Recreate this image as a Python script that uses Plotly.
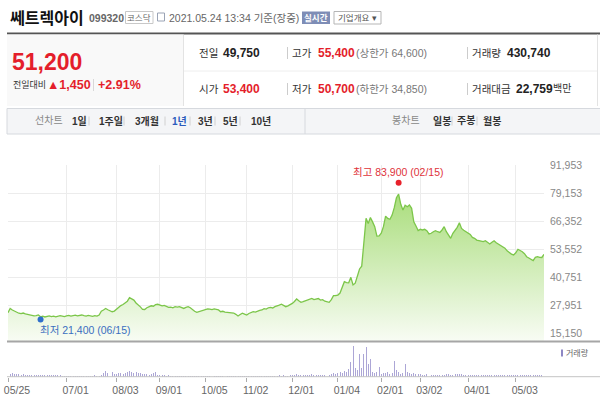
import plotly.graph_objects as go
import pandas as pd

# ---------------- data ----------------
holidays = ['2020-08-17', '2020-09-30', '2020-10-01', '2020-10-02', '2020-10-09',
            '2020-12-25', '2020-12-31', '2021-01-01', '2021-02-11', '2021-02-12',
            '2021-03-01', '2021-05-05', '2021-05-19']
trading_days = [d.strftime('%Y-%m-%d') for d in pd.bdate_range('2020-05-25', '2021-05-24')
                if d.strftime('%Y-%m-%d') not in holidays]

close_2020_05 = [24500, 26500, 25800, 25200, 24600]
close_2020_06 = [24300, 24100, 24400, 24000, 23700, 23500, 23300, 23100, 23200, 23500, 22700,
                 23000, 22600, 22900, 23100, 22800, 23000, 22700, 22900, 23200, 23000, 22800]
close_2020_07 = [23100, 23300, 23000, 23200, 23400, 23100, 23300, 23500, 23200, 23000, 23300,
                 23100, 22900, 23200, 23000, 23500, 25200, 25800, 26500, 25900, 25500, 25000, 25300]
close_2020_08 = [26200, 27300, 27800, 28300, 28900, 29800, 31400, 30900, 30300, 29000, 28300,
                 27200, 26100, 26000, 26800, 27300, 27700, 27500, 28200, 28400]
close_2020_09 = [28100, 27700, 27900, 27400, 27000, 27100, 26800, 27300, 27100, 27300, 26700,
                 26500, 27000, 27300, 26800, 25900, 25200, 24700, 25000, 25500, 25800]
close_2020_10 = [26100, 26300, 26200, 26000, 26300, 26200, 25800, 25000, 25200, 24800, 24700,
                 24900, 24700, 24400, 23800, 23050, 23700, 24300, 23900]
close_2020_11 = [23500, 24200, 24600, 25000, 24800, 25300, 25600, 25800, 26400, 26200, 26800,
                 27000, 26700, 27300, 27500, 28000, 28400, 27900, 27300, 27700, 28200]
close_2020_12 = [28800, 29700, 30800, 30000, 29300, 29600, 29900, 30300, 30800, 31100, 30500,
                 30800, 31000, 30300, 30500, 29800, 29500, 29300, 30500, 32300, 32400]
close_2021_01 = [32600, 33500, 36400, 38700, 38300, 38200, 40700, 37200, 38000, 41000, 44500,
                 45800, 56200, 67600, 65300, 68000, 66000, 63800, 59500, 59600]
close_2021_02 = [60800, 63800, 68600, 67600, 67200, 69100, 72500, 77000, 78700, 74000, 71400,
                 73600, 72900, 73700, 72200, 66000, 64100, 62000]
close_2021_03 = [62600, 62300, 62600, 62000, 60500, 60800, 61500, 62000, 61500, 61200, 62300,
                 63800, 61500, 60000, 58500, 60800, 62000, 63500, 65600, 63000, 62200, 61500]
close_2021_04 = [61000, 60300, 58900, 58500, 57700, 57500, 57000, 57000, 57400, 56500, 55900,
                 56700, 57400, 56500, 55900, 55000, 54400, 54000, 52800, 52000, 51300, 50900]
close_2021_05 = [51900, 53500, 53000, 52400, 51500, 50100, 49500, 48900, 48300, 49800, 50100,
                 49800, 49750, 51200]

vol_2020_05 = [600, 450, 500, 400, 350]
vol_2020_06 = [380, 300, 350, 280, 300, 260, 250, 280, 240, 230, 300, 260, 220, 240, 210, 200,
               220, 190, 180, 200, 170, 160]
vol_2020_07 = [120, 60, 150, 50, 90, 140, 40, 60, 130, 100, 50, 160, 110, 200, 150, 170, 250,
               600, 750, 500, 1900, 700, 450]
vol_2020_08 = [350, 600, 500, 450, 550, 650, 850, 700, 500, 650, 550, 500, 450, 350, 400, 300,
               350, 600, 700, 250]
vol_2020_09 = [250, 200, 180, 150, 200, 170, 140, 160, 130, 150, 120, 140, 110, 90, 130, 100,
               80, 120, 90, 70, 60]
vol_2020_10 = [60, 150, 40, 50, 30, 60, 40, 160, 50, 40, 30, 60, 40, 50, 150, 40, 50, 30, 60]
vol_2020_11 = [60, 70, 160, 60, 80, 50, 120, 150, 100, 170, 130, 90, 160, 140, 110, 180, 150,
               200, 130, 170, 190]
vol_2020_12 = [180, 220, 350, 250, 200, 230, 300, 260, 280, 320, 200, 240, 260, 230, 210, 280,
               250, 220, 400, 600, 450]
vol_2021_01 = [500, 700, 600, 800, 700, 1050, 2150, 4400, 1300, 900, 3250, 1200, 3250, 4300,
               1800, 2600, 700, 500, 700, 1340]
vol_2021_02 = [400, 500, 600, 700, 450, 500, 2250, 950, 700, 450, 500, 1800, 700, 500, 450, 550,
               400, 350]
vol_2021_03 = [350, 300, 280, 320, 250, 300, 270, 240, 260, 300, 280, 250, 350, 400, 300, 280,
               330, 360, 420, 380, 300, 260]
vol_2021_04 = [300, 280, 260, 240, 270, 250, 230, 220, 250, 230, 210, 240, 260, 220, 200, 230,
               210, 190, 220, 250, 200, 230]
vol_2021_05 = [260, 300, 250, 220, 240, 280, 300, 260, 230, 250, 220, 240, 280, 431]

close = (close_2020_05 + close_2020_06 + close_2020_07 + close_2020_08 + close_2020_09 +
         close_2020_10 + close_2020_11 + close_2020_12 + close_2021_01 + close_2021_02 +
         close_2021_03 + close_2021_04 + close_2021_05)
volume_k = (vol_2020_05 + vol_2020_06 + vol_2020_07 + vol_2020_08 + vol_2020_09 + vol_2020_10 +
            vol_2020_11 + vol_2020_12 + vol_2021_01 + vol_2021_02 + vol_2021_03 + vol_2021_04 +
            vol_2021_05)
volume = [v * 1000 for v in volume_k]
assert len(close) == len(trading_days) == len(volume)

tick_dates = ['2020-05-25', '2020-07-01', '2020-08-03', '2020-09-01', '2020-10-05', '2020-11-02',
              '2020-12-01', '2021-01-04', '2021-02-01', '2021-03-02', '2021-04-01', '2021-05-03']
tick_labels = ['05/25', '07/01', '08/03', '09/01', '10/05', '11/02', '12/01', '01/04', '02/01',
               '03/02', '04/01', '05/03']
price_ticks = [15150, 27951, 40751, 53552, 66352, 79153, 91953]
high_value, high_date, high_label = 83900, '2021-02-15', '02/15'
low_value, low_date, low_label = 21400, '2020-06-15', '06/15'

# ---------------- geometry helpers ----------------
W, H, L, R = 600, 399, 8, 56
PW = W - L - R
def X(p): return (p - L) / PW
def Y(p): return 1 - p / H

FONT = "Liberation Sans, Noto Sans CJK KR, sans-serif"
KFONT = "Noto Sans CJK KR, sans-serif"
RED = '#e41e2b'

# price axis: 91,953 at y=165px, 15,150 at y=333.3px, area bottom at 341px
per_px = (price_ticks[-1] - price_ticks[0]) / (333.3 - 165)
ymin = price_ticks[0] - (341 - 333.3) * per_px
vmax = max(volume) * (376.7 - 342) / (376.7 - 346)

fig = go.Figure()
fig.add_trace(go.Scatter(
    x=trading_days, y=close, mode='lines', line=dict(color='#7cc64a', width=1.3),
    fill='tozeroy',
    fillgradient=dict(type='vertical', start=ymin, stop=79000,
                      colorscale=[[0, '#f8fcf4'], [1, '#a9dd7b']]),
    hoverinfo='skip'))
fig.add_trace(go.Scatter(x=[high_date], y=[high_value], mode='markers',
                         marker=dict(color='#e8212b', size=6), hoverinfo='skip'))
fig.add_trace(go.Scatter(x=[low_date], y=[low_value], mode='markers',
                         marker=dict(color='#2f6fcb', size=6), hoverinfo='skip'))
fig.add_trace(go.Bar(x=trading_days, y=volume, xaxis='x2', yaxis='y2', width=0.45,
                     marker=dict(color='#aca6d6', line=dict(width=0)), hoverinfo='skip'))

ann = []
def txt(x, y, s, size=11, color='#333', bold=False, anchor='left', family=FONT):
    ann.append(dict(xref='paper', yref='paper', x=X(x), y=Y(y),
                    text=('<b>%s</b>' % s) if bold else s, showarrow=False,
                    xanchor=anchor, yanchor='middle', borderpad=0,
                    font=dict(size=size, color=color, family=family)))

shapes = []
def rect(x0, y0, x1, y1, fill=None, line=None, lw=1):
    shapes.append(dict(type='rect', xref='paper', yref='paper', x0=X(x0), x1=X(x1),
                       y0=Y(y1), y1=Y(y0), fillcolor=fill or 'rgba(0,0,0,0)',
                       line=dict(color=line or 'rgba(0,0,0,0)', width=lw if line else 0)))
def seg(x0, y0, x1, y1, color, lw=1):
    shapes.append(dict(type='line', xref='paper', yref='paper', x0=X(x0), x1=X(x1),
                       y0=Y(y0), y1=Y(y1), line=dict(color=color, width=lw)))

# header
txt(9, 17, '쎄트렉아이', 16, '#111', True, family=KFONT)
txt(88, 18, '099320', 10.5, '#666', True)
rect(125.5, 11.5, 153, 23.5, 'white', '#c8c8c8')
txt(139.3, 17.5, '코스닥', 8.5, '#666', anchor='center')
rect(157.5, 13, 164.5, 21, 'white', '#9aa3b5')
txt(167.5, 18, '2021.05.24 13:34 기준(장중)', 10.5, '#666')
rect(302, 11.5, 330, 24, '#7e8db6', None)
txt(316, 18, '실시간', 8.5, 'white', True, anchor='center')
rect(334, 11.5, 381, 24, 'white', '#b5b5b5')
txt(357.5, 18, '기업개요 ▾', 8.5, '#555', anchor='center')
seg(7, 33.5, 600, 33.5, '#555', 2)

# info box
rect(7, 34.5, 183, 106, '#f9f9f9', None)
seg(183.5, 34.5, 183.5, 106, '#e3e3e3')
seg(597.5, 34.5, 597.5, 106, '#e3e3e3')
seg(184, 71, 597, 71, '#eeeeee')
txt(11, 62, '51,200', 23, RED, True)
txt(12, 85, '전일대비', 9, '#333')
txt(46, 85, '▲1,450', 12.5, RED, True)
seg(93.5, 79, 93.5, 91, '#d8d8d8')
txt(97, 85, '+2.91%', 12.5, RED, True)

for yy in (53, 89):
    seg(287.5, yy - 6, 287.5, yy + 6, '#cccccc')
    seg(467.5, yy - 6, 467.5, yy + 6, '#cccccc')
txt(198, 53, '전일', 10.5, '#333')
txt(222, 53, '49,750', 12, '#222', True)
txt(291, 53, '고가', 10.5, '#333')
txt(317, 53, '55,400', 12, RED, True)
txt(355, 53, '(상한가 64,600)', 10.5, '#777')
txt(471, 53, '거래량', 10.5, '#333')
txt(506, 53, '430,740', 12, '#222', True)
txt(198, 89, '시가', 10.5, '#333')
txt(222, 89, '53,400', 12, RED, True)
txt(291, 89, '저가', 10.5, '#333')
txt(317, 89, '50,700', 12, RED, True)
txt(355, 89, '(하한가 34,850)', 10.5, '#777')
txt(471, 89, '거래대금', 10.5, '#333')
txt(515, 89, '22,759', 12, '#222', True)
txt(552, 89, '백만', 10, '#333')

# toolbar
rect(7, 108.5, 601, 134, '#f4f5f7', '#d6d9de')
seg(305, 108.5, 305, 134, '#d6d9de')
ty = 121
txt(34, ty, '선차트', 10, '#888')
for xs in (89, 124, 165, 190, 215, 240, 452, 477):
    seg(xs, ty - 4.5, xs, ty + 4.5, '#d0d0d0')
txt(71, ty, '1일', 10, '#333', True)
txt(98, ty, '1주일', 10, '#333', True)
txt(134, ty, '3개월', 10, '#333', True)
txt(171, ty, '1년', 10, '#2b5bbd', True)
txt(197, ty, '3년', 10, '#333', True)
txt(222, ty, '5년', 10, '#333', True)
txt(250, ty, '10년', 10, '#333', True)
txt(391, ty, '봉차트', 10, '#888')
txt(432, ty, '일봉', 10, '#333', True)
txt(456, ty, '주봉', 10, '#333', True)
txt(482, ty, '월봉', 10, '#333', True)

# chart frame lines
seg(7, 341.5, 600, 341.5, '#a6a6a6', 2)
seg(7, 376.7, 600, 376.7, '#c4c4c4', 1)
rect(561, 349.5, 563, 356.5, '#8e87c4', None)
txt(565, 353, '거래량', 8, '#666')

# high / low labels (data anchored)
ann.append(dict(xref='x', yref='y', x=high_date, y=high_value, showarrow=False,
                text='최고 %s (%s)' % (f'{high_value:,}', high_label), yshift=11,
                xanchor='center', yanchor='middle',
                font=dict(size=10.5, color='#e0323a', family=FONT)))
ann.append(dict(xref='x', yref='y', x=low_date, y=low_value, showarrow=False,
                text='최저 %s (%s)' % (f'{low_value:,}', low_label), yshift=-10, xshift=-3,
                xanchor='left', yanchor='middle',
                font=dict(size=10.5, color='#3a6fc0', family=FONT)))

fig.update_layout(
    template='none', width=W, height=H, margin=dict(l=L, r=R, t=0, b=0, pad=0),
    paper_bgcolor='white', plot_bgcolor='rgba(0,0,0,0)', showlegend=False,
    font=dict(family=FONT), hovermode=False,
    xaxis=dict(type='category', categoryorder='array', categoryarray=trading_days,
               range=[0, len(trading_days) - 1], tickvals=tick_dates, showticklabels=False,
               showgrid=True, gridcolor='#ececec', gridwidth=1, zeroline=False, showline=False,
               ticks='', anchor='y', automargin=False, fixedrange=True),
    yaxis=dict(domain=[Y(341), Y(165)], range=[ymin, price_ticks[-1]], side='right',
               tickvals=price_ticks, ticktext=[f'{v:,}' for v in price_ticks],
               tickfont=dict(size=10.5, color='#888'), ticklabelstandoff=5,
               showgrid=True, gridcolor='#ececec', zeroline=False, showline=False, ticks='',
               anchor='x', automargin=False, fixedrange=True),
    xaxis2=dict(type='category', categoryorder='array', categoryarray=trading_days,
                range=[0, len(trading_days) - 1], tickvals=tick_dates, ticktext=tick_labels,
                ticks='outside', ticklen=4, tickcolor='#aaaaaa', ticklabelshift=9,
                tickfont=dict(size=10.5, color='#666'), showgrid=False, zeroline=False,
                showline=False, anchor='y2', automargin=False, fixedrange=True),
    yaxis2=dict(domain=[Y(376.7), Y(342)], range=[0, vmax], visible=False, anchor='x2',
                fixedrange=True),
    annotations=ann, shapes=shapes, bargap=0)

fig.write_html("out.html", config={'displayModeBar': False, 'staticPlot': True},
               post_script="document.body.style.margin='0';document.body.style.padding='0';")
